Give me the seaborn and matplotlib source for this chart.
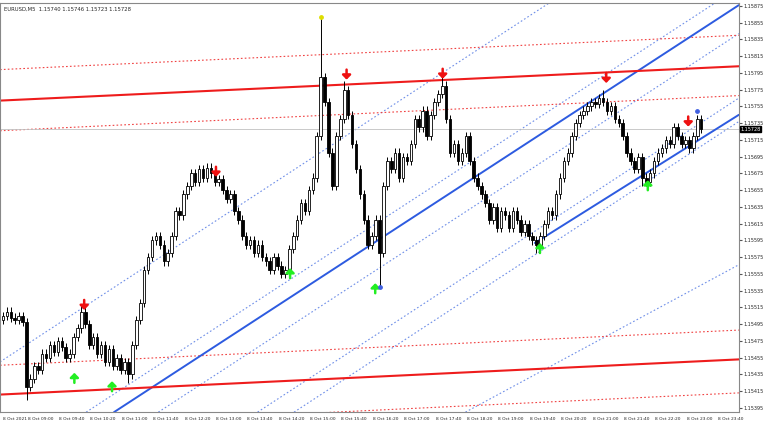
import matplotlib
matplotlib.use("Agg")
import matplotlib.pyplot as plt
import seaborn as sns
import numpy as np
import pandas as pd

closes = [1.15505,1.15510,1.15503,1.15500,1.15505,1.15498,1.15420,1.15430,
1.15445,1.15440,1.15460,1.15455,1.15470,1.15462,1.15475,1.15468,
1.15455,1.15460,1.15480,1.15490,1.15510,1.15495,1.15470,1.15480,
1.15460,1.15470,1.15450,1.15465,1.15445,1.15455,1.15440,1.15450,
1.15435,1.15470,1.15500,1.15520,1.15560,1.15575,1.15595,1.15600,
1.15590,1.15570,1.15580,1.15600,1.15630,1.15625,1.15650,1.15660,
1.15675,1.15665,1.15680,1.15670,1.15682,1.15675,1.15665,1.15668,
1.15655,1.15645,1.15650,1.15630,1.15620,1.15600,1.15590,1.15595,
1.15580,1.15590,1.15575,1.15570,1.15560,1.15575,1.15565,1.15555,
1.15560,1.15585,1.15600,1.15620,1.15640,1.15630,1.15655,1.15670,
1.15720,1.15790,1.15760,1.15700,1.15660,1.15720,1.15740,1.15775,
1.15745,1.15710,1.15680,1.15650,1.15620,1.15590,1.15600,1.15620,
1.15580,1.15660,1.15690,1.15680,1.15700,1.15670,1.15695,1.15690,
1.15710,1.15740,1.15730,1.15750,1.15720,1.15745,1.15760,1.15770,
1.15780,1.15740,1.15700,1.15710,1.15690,1.15700,1.15720,1.15690,
1.15670,1.15660,1.15650,1.15640,1.15620,1.15635,1.15610,1.15630,
1.15625,1.15610,1.15630,1.15620,1.15605,1.15615,1.15600,1.15595,
1.15590,1.15600,1.15615,1.15630,1.15625,1.15650,1.15670,1.15690,
1.15700,1.15720,1.15735,1.15745,1.15750,1.15755,1.15760,1.15758,
1.15765,1.15760,1.15750,1.15755,1.15740,1.15735,1.15720,1.15700,
1.15690,1.15680,1.15695,1.15670,1.15665,1.15675,1.15690,1.15700,
1.15705,1.15715,1.15710,1.15730,1.15720,1.15710,1.15715,1.15705,
1.15720,1.15740,1.15728]
first_open = 1.15500
wick = 0.00005
high_override = {81: 1.15862, 87: 1.15785, 112: 1.15792, 20: 1.15518, 153: 1.15775}
low_override = {6: 1.15405, 96: 1.15540, 136: 1.15580, 163: 1.15660, 32: 1.15425}

tick_labels = ["8 Oct 2021"] + ["8 Oct " + t for t in
    ["09:00","09:40","10:20","11:00","11:40","12:20","13:00","13:40","14:20","15:00",
     "15:40","16:20","17:00","17:40","18:20","19:00","19:40","20:20","21:00","21:40",
     "22:20","23:00","23:40"]]
price_ticks = [round(1.15875 - 0.0002 * k, 5) for k in range(25)]

red_solid = [(-0.76, 1.15762, 187.6, 1.15803), (-0.76, 1.15411, 187.6, 1.15453)]
red_dotted = [(-0.76, 1.15799, 187.6, 1.15840), (-0.76, 1.15726, 187.6, 1.15768),
              (-0.76, 1.15446, 187.6, 1.15488), (-0.76, 1.15371, 187.6, 1.15413)]
blue_solid = [(28.3, 1.15390, 187.6, 1.15876), (135.6, 1.15592, 187.6, 1.15745)]
blue_dotted = [(-0.76, 1.15450, 140.7, 1.15883), (21.2, 1.15390, 187.6, 1.15897),
               (39.6, 1.15390, 187.6, 1.15842), (64.9, 1.15390, 187.6, 1.15765),
               (74.2, 1.15390, 187.6, 1.15737), (117.9, 1.15390, 187.6, 1.15566)]
down_arrows = [(20.7, 1.15518), (54.3, 1.15677), (87.6, 1.15793), (112.1, 1.15794),
               (153.8, 1.15789), (174.7, 1.15737)]
up_arrows = [(18.2, 1.15431), (27.8, 1.15421), (73.2, 1.15556), (94.9, 1.15538),
             (136.9, 1.15586), (164.4, 1.15661)]
last_price = 1.15728

sns.set_style("white")
fig = plt.figure(figsize=(7.68, 4.21), dpi=100)
ax = fig.add_axes([0.0, 0.021, 0.962, 0.972])

n = len(closes)
opens = [first_open] + closes[:-1]
highs = [high_override.get(i, max(o, c) + wick) for i, (o, c) in enumerate(zip(opens, closes))]
lows = [low_override.get(i, min(o, c) - wick) for i, (o, c) in enumerate(zip(opens, closes))]
df = pd.DataFrame({"i": range(n), "o": opens, "c": closes, "h": highs, "l": lows})

def seg(lines, **kw):
    for (x0, p0, x1, p1) in lines:
        d = pd.DataFrame({"x": [x0, x1], "y": [p0, p1]})
        sns.lineplot(data=d, x="x", y="y", ax=ax, **kw)

seg(blue_dotted, color="#6f8fe8", lw=0.8, linestyle=(0, (1.5, 2)))
seg(red_dotted, color="#f04040", lw=0.8, linestyle=(0, (1.5, 2)))
ax.axhline(last_price, color="#c0c0c0", lw=0.6)
seg(blue_solid, color="#2d5be0", lw=1.4)
seg(red_solid, color="#ee1c1c", lw=1.5)

ax.vlines(df["i"], df["l"], df["h"], color="black", lw=0.7, zorder=3)
bull = df[df["c"] >= df["o"]]
bear = df[df["c"] < df["o"]]
ax.bar(bull["i"], (bull["c"] - bull["o"]).clip(lower=0.000008), bottom=bull["o"], width=0.65,
       color="white", edgecolor="black", lw=0.6, zorder=4)
ax.bar(bear["i"], bear["o"] - bear["c"], bottom=bear["c"], width=0.65,
       color="black", edgecolor="black", lw=0.6, zorder=4)

style = "-|>,head_width=0.25,head_length=0.25"
for x, p in down_arrows:
    ax.annotate("", xy=(x, p - 0.00006), xytext=(x, p + 0.00006),
                arrowprops=dict(arrowstyle=style, color="#ee1111", lw=1.8, shrinkA=0, shrinkB=0), zorder=6)
for x, p in up_arrows:
    ax.annotate("", xy=(x, p + 0.00006), xytext=(x, p - 0.00006),
                arrowprops=dict(arrowstyle=style, color="#22ee22", lw=1.8, shrinkA=0, shrinkB=0), zorder=6)
ax.scatter([81], [1.15862], s=6, color="#dddd00", zorder=7)
ax.scatter([96, 177], [1.15540, 1.15750], s=6, color="#4060e0", zorder=7)

ax.set_xlim(-0.76, 187.6)
ax.set_ylim(1.15390, 1.158786)
ax.set_xticks([0.0] + [6.3 + 8 * k for k in range(23)])
ax.set_xticklabels(tick_labels, fontsize=3.2, ha="left")
ax.yaxis.tick_right()
ax.set_yticks(price_ticks)
ax.set_yticklabels([f"{p:.5f}" for p in price_ticks], fontsize=3.5)
ax.tick_params(length=2, pad=1.5, color="#555555")
ax.set_xlabel(""); ax.set_ylabel("")
for s in ax.spines.values():
    s.set_color("#888888"); s.set_linewidth(0.8)
ax.text(1.002, last_price, f"{last_price:.5f}", transform=ax.get_yaxis_transform(),
        fontsize=3.5, color="white", va="center", ha="left",
        bbox=dict(boxstyle="square,pad=0.15", fc="black", ec="black"))
ax.text(0.006, 0.99, "EURUSD,M5  1.15740 1.15746 1.15723 1.15728", transform=ax.transAxes,
        fontsize=3.8, va="top", ha="left")
fig.savefig("out.png", dpi=100)
